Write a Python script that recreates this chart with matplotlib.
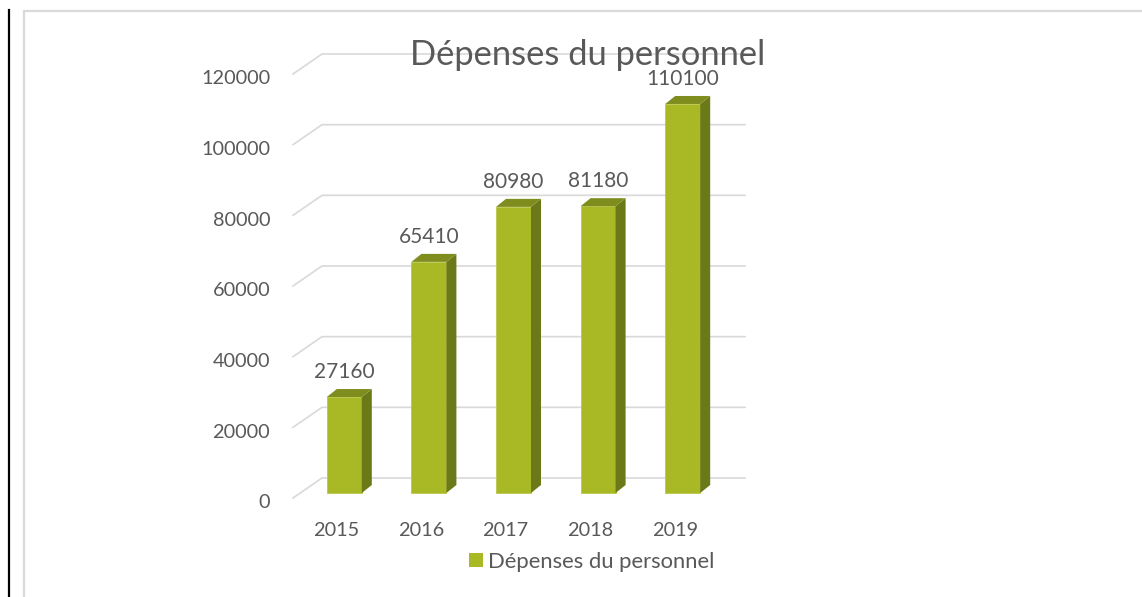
import matplotlib
matplotlib.use('Agg')
import matplotlib.pyplot as plt
from matplotlib.lines import Line2D
from matplotlib.patches import Polygon, Patch

# data
years = ['2015', '2016', '2017', '2018', '2019']
depenses = [27160, 65410, 80980, 81180, 110100]
yticks = [0, 20000, 40000, 60000, 80000, 100000, 120000]
title = 'Dépenses du personnel'

# colours
front_c = '#a9b825'
side_c = '#6b7919'
top_c = '#7f8d1f'
grid_c = '#d9d9d9'
txt_c = '#595959'

plt.rcParams['font.family'] = ['Lato', 'DejaVu Sans']

W, H = 1142, 597
fig = plt.figure(figsize=(W / 100, H / 100), dpi=100)

# axes: front face of bars, 0 at y=493px, 120000 at y=69px
ax_l, ax_r, ax_b, ax_t = 302, 725, 493, 69
ax = fig.add_axes([ax_l / W, 1 - ax_b / H, (ax_r - ax_l) / W, (ax_b - ax_t) / H])
ax.set_xlim(-0.5, len(years) - 0.5)
ax.set_ylim(0, 120000)
ax.axis('off')

# data units per pixel
ux = len(years) / (ax_r - ax_l)
uy = 120000 / (ax_b - ax_t)

# gridlines on the back wall with a diagonal toward the front
x0, x1 = -0.5, len(years) - 0.5
for v in yticks:
    ax.plot([x0 - 9 * ux, x0 + 20 * ux, x1 + 20 * ux],
            [v - 5 * uy, v + 15 * uy, v + 15 * uy],
            color=grid_c, lw=1.2, clip_on=False, zorder=1)
    ax.text(x0 - 32 * ux, v - 10 * uy, str(v), ha='right', va='center',
            fontsize=14.3, color=txt_c)

# 3d-ish bars
bw = 35 * ux
dx, dy = 10 * ux, 8 * uy
for i, v in enumerate(depenses):
    ax.bar(i, v, width=bw, color=front_c, edgecolor='#b9c74a', lw=0.6,
           zorder=3, clip_on=False)
    xa, xb = i - bw / 2, i + bw / 2
    ax.add_patch(Polygon([(xb, 0), (xb + dx, dy), (xb + dx, v + dy), (xb, v)],
                         closed=True, facecolor=side_c, edgecolor='none',
                         zorder=3, clip_on=False))
    ax.add_patch(Polygon([(xa, v), (xb, v), (xb + dx, v + dy), (xa + dx, v + dy)],
                         closed=True, facecolor=top_c, edgecolor='none',
                         zorder=3, clip_on=False))
    ax.text(i, v + 19 * uy, str(v), ha='center', va='baseline',
            fontsize=15, color=txt_c, zorder=4)
    ax.text(i - 8 * ux, -38 * uy, years[i], ha='center', va='center',
            fontsize=14.3, color=txt_c)

fig.text(588 / W, 1 - 65 / H, title, ha='center', va='baseline',
         fontsize=24.8, color=txt_c, zorder=5)

fig.legend(handles=[Patch(facecolor=front_c, edgecolor='none', label=title)],
           loc='center', bbox_to_anchor=(592 / W, 1 - 562 / H),
           frameon=False, fontsize=15.8, labelcolor=txt_c,
           handlelength=0.62, handleheight=0.62, handletextpad=0.25,
           borderpad=0, borderaxespad=0)

# page borders
fig.add_artist(Line2D([9 / W, 9 / W], [0, 1 - 10 / H], color='black', lw=1.6,
                      transform=fig.transFigure))
fig.add_artist(Line2D([24 / W, 24 / W, 1], [0, 1 - 11 / H, 1 - 11 / H],
                      color='#d9d9d9', lw=1.6, transform=fig.transFigure))

fig.savefig('out.png', dpi=100)
